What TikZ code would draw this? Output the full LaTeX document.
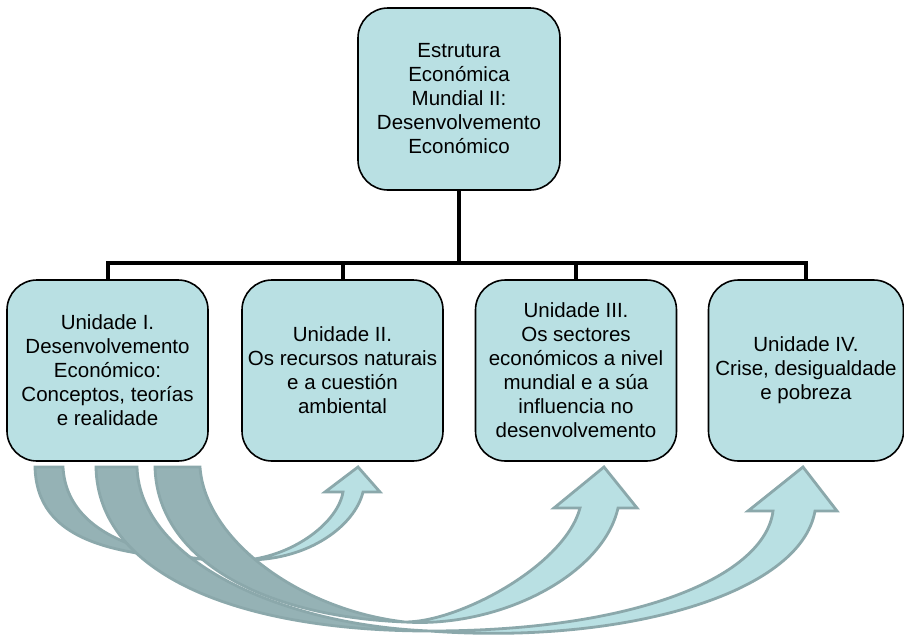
\documentclass[tikz,border=0pt]{standalone}
\usepackage{fontspec}
\setmainfont{Liberation Sans}
\definecolor{boxfill}{HTML}{B9E0E3}
\definecolor{arrdark}{HTML}{95B2B5}
\definecolor{arrlight}{HTML}{B9E0E3}
\definecolor{arrline}{HTML}{8BA8AB}
\begin{document}
\begin{tikzpicture}[x=1pt,y=-1pt,
  box/.style={draw=black, line width=1.6pt, fill=boxfill, rounded corners=30pt,
    minimum width=201pt, minimum height=181pt, align=center, inner sep=0pt,
    font=\fontsize{20.5}{24}\selectfont},
  conn/.style={draw=black, line width=4pt},
  arrline/.style={draw=arrline, line width=2.8pt, line join=miter},
  arrlightfill/.style={fill=arrlight},
  arrdarkfill/.style={fill=arrdark},
]
\useasboundingbox (0,0) rectangle (904,635);

% boxes
\node[box, minimum width=202pt, minimum height=182pt] (top) at (459,99)
  {Estrutura\\Económica\\Mundial II:\\Desenvolvemento\\Económico};
\node[box] (u1) at (107.5,370.5)
  {Unidade I.\\Desenvolvemento\\Económico:\\Conceptos, teorías\\e realidade};
\node[box] (u2) at (342.5,370.5)
  {Unidade II.\\Os recursos naturais\\e a cuestión\\ambiental};
\node[box] (u3) at (576,370.5)
  {Unidade III.\\Os sectores\\económicos a nivel\\mundial e a súa\\influencia no\\desenvolvemento};
\node[box, minimum width=195pt] (u4) at (806,370.5)
  {Unidade IV.\\Crise, desigualdade\\e pobreza};

% connectors
\draw[conn] (top.south) -- ++(0,72) coordinate (hub);
\draw[conn] (u1.north) |- (hub) -| (u4.north);
\draw[conn] (hub -| u2.north) -- (u2.north);
\draw[conn] (hub -| u3.north) -- (u3.north);

% curved arrow A (to Unidade II)
\fill[arrlightfill] (247,560) .. controls (295,555) and (338,522) .. (343,492)
  -- (325,492) -- (358,467) -- (380,492) -- (363,492)
  .. controls (355,525) and (310,560) .. (247,560) -- cycle;
\fill[arrdarkfill] (35,467) .. controls (37,540) and (110,560) .. (247,560)
  .. controls (160,562) and (67,540) .. (63,467) -- cycle;
\draw[arrline] (35,467) .. controls (37,540) and (110,560) .. (247,560)
  .. controls (295,555) and (338,522) .. (343,492)
  -- (325,492) -- (358,467) -- (380,492) -- (363,492)
  .. controls (355,525) and (310,560) .. (247,560)
  .. controls (160,562) and (67,540) .. (63,467) -- cycle;

% curved arrow C (to Unidade III)
\fill[arrlightfill] (405,622) .. controls (460,622) and (565,565) .. (580,508)
  -- (554,508) -- (604,467) -- (637,508) -- (618,508)
  .. controls (603,575) and (500,628) .. (405,622) -- cycle;
\fill[arrdarkfill] (155,467) .. controls (157,555) and (255,616) .. (405,622)
  .. controls (300,610) and (205,540) .. (200,467) -- cycle;
\draw[arrline] (155,467) .. controls (157,555) and (255,616) .. (405,622)
  .. controls (460,622) and (565,565) .. (580,508)
  -- (554,508) -- (604,467) -- (637,508) -- (618,508)
  .. controls (603,575) and (500,628) .. (405,622)
  .. controls (300,610) and (205,540) .. (200,467) -- cycle;

% curved arrow B (to Unidade IV)
\fill[arrlightfill] (430,631) .. controls (640,631) and (765,575) .. (773,511)
  -- (748,511) -- (803,467) -- (837,511) -- (815,511)
  .. controls (800,595) and (620,645) .. (430,631) -- cycle;
\fill[arrdarkfill] (96,467) .. controls (98,575) and (240,631) .. (430,631)
  .. controls (280,625) and (140,560) .. (137,467) -- cycle;
\draw[arrline] (96,467) .. controls (98,575) and (240,631) .. (430,631)
  .. controls (640,631) and (765,575) .. (773,511)
  -- (748,511) -- (803,467) -- (837,511) -- (815,511)
  .. controls (800,595) and (620,645) .. (430,631)
  .. controls (280,625) and (140,560) .. (137,467) -- cycle;
\end{tikzpicture}
\end{document}
